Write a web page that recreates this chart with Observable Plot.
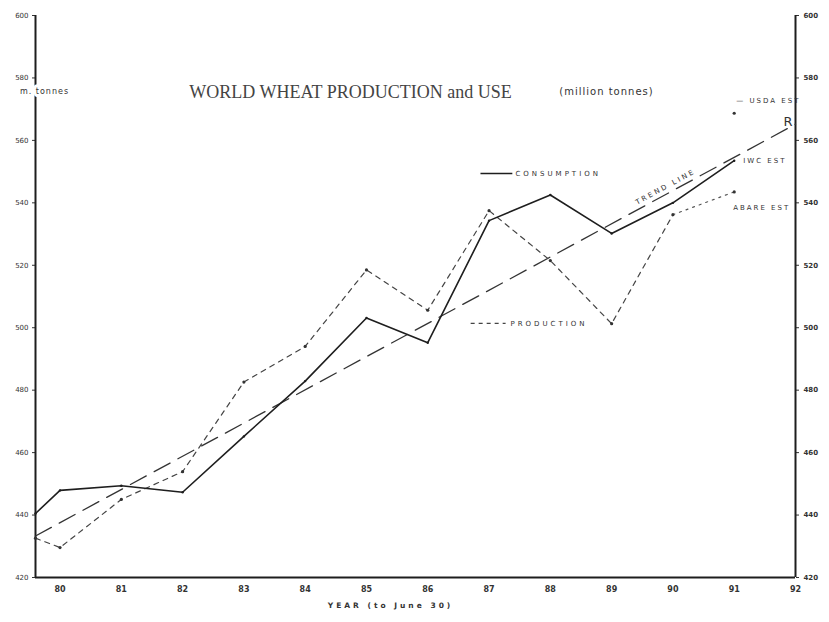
<!DOCTYPE html>
<html>
<head>
<meta charset="utf-8">
<script src="https://cdn.jsdelivr.net/npm/d3@7"></script>
<script src="https://cdn.jsdelivr.net/npm/@observablehq/plot@0.6"></script>
<style>
  body { margin: 0; background: #fff; }
  #chart { width: 829px; height: 622px; }
</style>
</head>
<body>
<div id="chart"></div>
<script>
// ---- data (million tonnes, year to June 30) ----
const xDomain = [79.6, 92];
const yDomain = [420, 600];
const xTicks = [80, 81, 82, 83, 84, 85, 86, 87, 88, 89, 90, 91, 92];
const yTicks = [420, 440, 460, 480, 500, 520, 540, 560, 580, 600];

const consumptionYears  = [79.6, 80, 81, 82, 83, 84, 85, 86, 87, 88, 89, 90, 91];
const consumptionValues = [440.5, 447.9, 449.4, 447.3, 465.2, 482.9, 503.1, 495.2, 534.3, 542.5, 530.2, 540.0, 553.5];

const productionYears  = [79.6, 80, 81, 82, 83, 84, 85, 86, 87, 88, 89, 90];
const productionValues = [432.6, 429.6, 445.0, 453.9, 482.6, 494.0, 518.5, 505.6, 537.5, 521.5, 501.3, 536.2];

const abareYears  = [90, 91];
const abareValues = [536.2, 543.5];

const usdaYears  = [91];
const usdaValues = [568.7];

const trendYears  = [79.6, 92];
const trendValues = [433.3, 565.2];

// ---- tables built from arrays ----
const consumption = consumptionYears.map((x, i) => ({x, y: consumptionValues[i]}));
const production  = productionYears.map((x, i) => ({x, y: productionValues[i]}));
const abare       = abareYears.map((x, i) => ({x, y: abareValues[i]}));
const usda        = usdaYears.map((x, i) => ({x, y: usdaValues[i]}));
const trend       = trendYears.map((x, i) => ({x, y: trendValues[i]}));

const ink = "#1e1e1e";
const small = {fontFamily: "DejaVu Sans, sans-serif", fontSize: 7, fill: "#333"};

const plot = Plot.plot({
  width: 829,
  height: 622,
  marginLeft: 35,
  marginRight: 34,
  marginTop: 15,
  marginBottom: 45,
  x: {domain: xDomain},
  y: {domain: yDomain},
  style: {background: "#fff", color: "#333", fontFamily: "DejaVu Sans, sans-serif"},
  marks: [
    Plot.axisX({ticks: xTicks, tickSize: 0, tickPadding: 9, tickFormat: d => String(d), fontSize: 8, fontWeight: "bold", label: null}),
    Plot.axisY({anchor: "left", ticks: yTicks, tickSize: 3, tickPadding: 4, fontSize: 7, label: null}),
    Plot.axisY({anchor: "right", ticks: yTicks, tickSize: 3, tickPadding: 5, fontSize: 7, fontWeight: "bold", label: null}),
    Plot.ruleX(xDomain, {stroke: ink, strokeWidth: 2}),
    Plot.ruleY([yDomain[0]], {stroke: ink, strokeWidth: 2}),

    // trend
    Plot.line(trend, {x: "x", y: "y", stroke: "#333", strokeWidth: 1.3, strokeDasharray: "18,9"}),
    // production
    Plot.line(production, {x: "x", y: "y", stroke: "#444", strokeWidth: 1.2, strokeDasharray: "5,5"}),
    Plot.line(abare, {x: "x", y: "y", stroke: "#555", strokeWidth: 1.2, strokeDasharray: "2,5"}),
    Plot.dot(production, {x: "x", y: "y", r: 1.6, fill: "#333"}),
    Plot.dot(abare.slice(1), {x: "x", y: "y", r: 1.6, fill: "#333"}),
    Plot.dot(usda, {x: "x", y: "y", r: 1.6, fill: "#333"}),
    // consumption
    Plot.line(consumption, {x: "x", y: "y", stroke: ink, strokeWidth: 1.6}),
    Plot.dot(consumption, {x: "x", y: "y", r: 1.2, fill: ink}),

    // legend entries
    Plot.link([0], {x1: 86.86, x2: 87.38, y1: 549.4, y2: 549.4, stroke: ink, strokeWidth: 1.4}),
    Plot.text(["CONSUMPTION"], {x: 87.43, y: 549.4, textAnchor: "start", ...small}),
    Plot.link([0], {x1: 86.7, x2: 87.27, y1: 501.4, y2: 501.4, stroke: "#444", strokeWidth: 1.2, strokeDasharray: "4,4"}),
    Plot.text(["PRODUCTION"], {x: 87.35, y: 501.4, textAnchor: "start", ...small}),
    Plot.text(["TREND LINE"], {x: 89.88, y: 542.6, dy: -8, rotate: -28.4, ...small}),

    // estimate labels
    Plot.text(usda, {x: "x", y: "y", text: () => "— USDA EST", dx: 2, dy: -12, textAnchor: "start", ...small}),
    Plot.text(consumption.slice(-1), {x: "x", y: "y", text: () => "IWC EST", dx: 9, dy: 0, textAnchor: "start", ...small}),
    Plot.text(abare.slice(1), {x: "x", y: "y", text: () => "ABARE EST", dx: -1, dy: 16, textAnchor: "start", ...small}),
    Plot.text(trend.slice(1), {x: "x", y: "y", text: () => "R", dx: -3, dy: -2, textAnchor: "end", fontSize: 13, fill: "#333", fontFamily: "DejaVu Sans, sans-serif"}),

    // titles
    Plot.text(["WORLD WHEAT PRODUCTION and USE"], {frameAnchor: "top", dx: -65, dy: 70, fontFamily: "Liberation Serif, serif", fontSize: 18, fill: "#444"}),
    Plot.text(["(million tonnes)"], {frameAnchor: "top", dx: 191, dy: 72, fontFamily: "DejaVu Sans, sans-serif", fontSize: 10, fill: "#333"}),
    Plot.text(["m. tonnes"], {frameAnchor: "top-left", dx: 9, dy: 73, textAnchor: "middle", fontSize: 8, fill: "#333", stroke: "#fff", strokeWidth: 6, fontFamily: "DejaVu Sans, sans-serif"}),
    Plot.text(["YEAR (to June 30)"], {frameAnchor: "bottom", dx: -25, dy: 30, fontSize: 7.5, fontWeight: "bold", fill: "#333", fontFamily: "DejaVu Sans, sans-serif"})
  ]
});

// letter spacing for the typewriter-style labels
const spacing = {
  "CONSUMPTION": "3px", "PRODUCTION": "3px", "TREND LINE": "2.5px",
  "YEAR (to June 30)": "3px", "— USDA EST": "2px", "IWC EST": "2px", "ABARE EST": "2px",
  "(million tonnes)": "1px", "m. tonnes": "1px"
};
d3.select(plot).selectAll("text").each(function() {
  const s = spacing[this.textContent];
  if (s) this.style.letterSpacing = s;
});

document.getElementById("chart").appendChild(plot);
</script>
</body>
</html>
